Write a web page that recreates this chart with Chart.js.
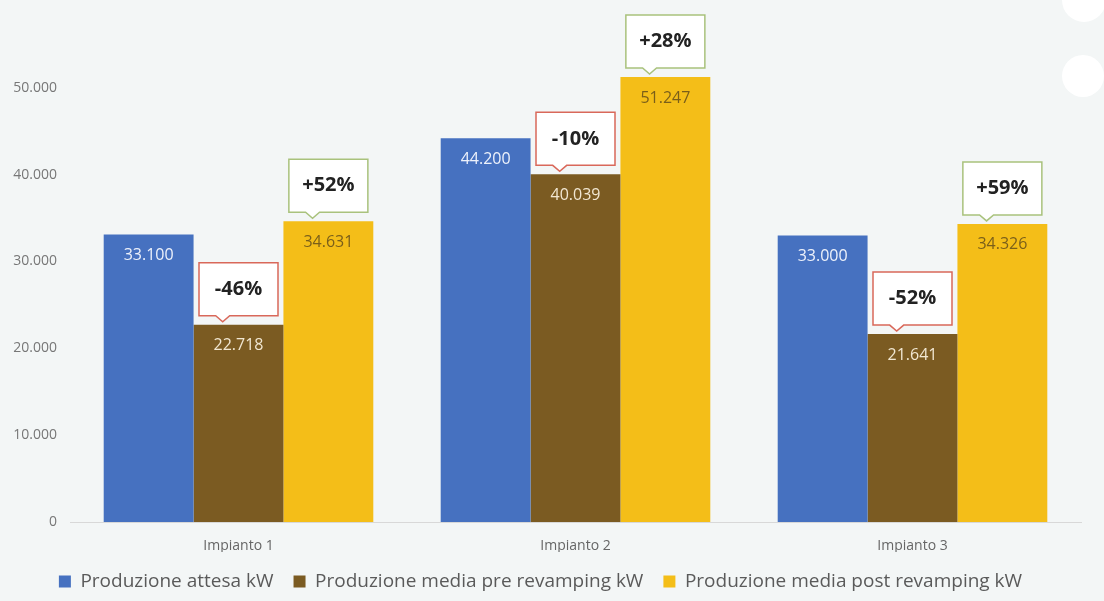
<html>
<head>
<title></title>
<style>
  body { margin: 0; background: #f3f6f6; }
  .wrap { position: relative; width: 1104px; height: 601px; }
  .dot { position: absolute; background: #fff; border-radius: 50%; }
</style>
</head>
<body>
<div class="wrap">
  <canvas id="myChart" width="1104" height="601"></canvas>
  <div class="dot" style="left:1062px; top:-22px; width:44px; height:44px;"></div>
  <div class="dot" style="left:1062px; top:55px; width:42px; height:42px;"></div>
</div>
<script src="https://cdn.jsdelivr.net/npm/chart.js@4.4.1/dist/chart.umd.min.js"></script>
<script>
var categories = ['Impianto 1', 'Impianto 2', 'Impianto 3'];
var attesa = [33100, 44200, 33000];
var pre = [22718, 40039, 21641];
var post = [34631, 51247, 34326];
var preDelta = ['-46%', '-10%', '-52%'];
var postDelta = ['+52%', '+28%', '+59%'];
var yTicks = [0, 10000, 20000, 30000, 40000, 50000];

function fmt(v) {
  return String(v).replace(/\B(?=(\d{3})+(?!\d))/g, '.');
}

// numbers inside the bars + the callout boxes above brown / yellow bars
var labelsPlugin = {
  id: 'labels',
  afterDatasetsDraw: function(chart) {
    var ctx = chart.ctx;
    var textColors = ['#eef2fb', '#f1e7d2', '#7a5f1a'];
    ctx.save();
    chart.data.datasets.forEach(function(ds, di) {
      var meta = chart.getDatasetMeta(di);
      meta.data.forEach(function(bar, i) {
        ctx.font = '16px "Open Sans"';
        ctx.fillStyle = textColors[di];
        ctx.textAlign = 'center';
        ctx.textBaseline = 'middle';
        ctx.fillText(fmt(ds.data[i]), bar.x, bar.y + 21);

        var deltas = di === 1 ? preDelta : di === 2 ? postDelta : null;
        if (!deltas) return;
        var w = 79, h = 53;
        var left = bar.x - w / 2;
        var bottom = bar.y - 9;
        var top = bottom - h;
        var px = left + w * 0.3;
        ctx.beginPath();
        ctx.moveTo(left, top);
        ctx.lineTo(left + w, top);
        ctx.lineTo(left + w, bottom);
        ctx.lineTo(px + 7, bottom);
        ctx.lineTo(px, bottom + 6);
        ctx.lineTo(px - 7, bottom);
        ctx.lineTo(left, bottom);
        ctx.closePath();
        ctx.fillStyle = '#ffffff';
        ctx.fill();
        ctx.lineWidth = 1.5;
        ctx.strokeStyle = di === 1 ? '#d9685a' : '#a9c27c';
        ctx.stroke();
        ctx.font = 'bold 20px "Open Sans"';
        ctx.fillStyle = '#222222';
        ctx.fillText(deltas[i], left + w / 2, top + h / 2);
      });
    });
    ctx.restore();
  }
};

var ctx = document.getElementById('myChart').getContext('2d');
var chart = new Chart(ctx, {
  type: 'bar',
  data: {
    labels: categories,
    datasets: [
      { label: 'Produzione attesa kW', data: attesa, backgroundColor: '#4671c0' },
      { label: 'Produzione media pre revamping kW', data: pre, backgroundColor: '#7b5b22' },
      { label: 'Produzione media post revamping kW', data: post, backgroundColor: '#f4be18' }
    ]
  },
  options: {
    responsive: false,
    animation: false,
    layout: { padding: { top: 1, right: 23, left: 0, bottom: 0 } },
    datasets: { bar: { categoryPercentage: 0.8, barPercentage: 1 } },
    plugins: {
      tooltip: { enabled: false },
      legend: {
        position: 'bottom',
        labels: {
          boxWidth: 12, boxHeight: 12, padding: 20,
          color: '#5a5a5a',
          font: { family: 'Open Sans', size: 19 }
        }
      }
    },
    scales: {
      x: {
        grid: { display: false, drawTicks: false },
        border: { display: true, color: '#d8d8d8' },
        ticks: { color: '#666666', padding: 16, font: { family: 'Open Sans', size: 14 } },
        afterFit: function(s) { s.height = 30; }
      },
      y: {
        min: 0, max: 60000,
        grid: { display: false, drawTicks: false },
        border: { display: false },
        afterBuildTicks: function(s) {
          s.ticks = yTicks.concat([60000]).map(function(v) { return { value: v }; });
        },
        ticks: {
          color: '#777777', padding: 13,
          font: { family: 'Open Sans', size: 14 },
          callback: function(v) { return v === 60000 ? '' : fmt(v); }
        },
        afterFit: function(s) { s.width = 70; s.paddingTop = 0; s.paddingBottom = 0; }
      }
    }
  },
  plugins: [labelsPlugin]
});
</script>
</body>
</html>
